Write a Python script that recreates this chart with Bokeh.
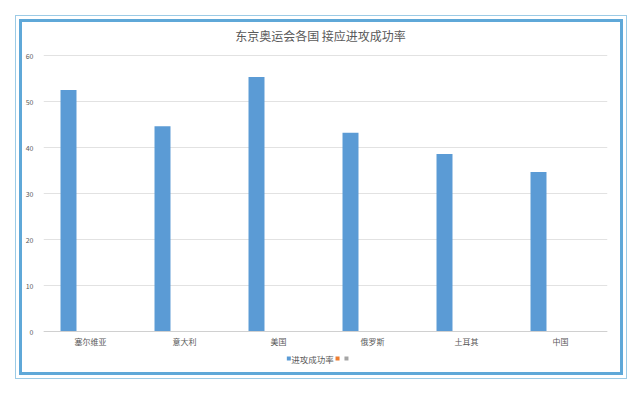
from bokeh.plotting import figure
from bokeh.models import (FactorRange, Range1d, ColumnDataSource, Span, SingleIntervalTicker)
from bokeh.transform import dodge
from bokeh.core.properties import value
from bokeh.embed import file_html
from bokeh.resources import INLINE

categories = ["塞尔维亚", "意大利", "美国", "俄罗斯", "土耳其", "中国"]
success_rate = [52.5, 44.6, 55.3, 43.2, 38.6, 34.7]
series_names = ["进攻成功率", "", ""]
series_colors = ["#5B9BD5", "#ED7D31", "#A5A5A5"]
title_text = "东京奥运会各国 接应进攻成功率"

FONT = "Noto Sans CJK SC"
THICK = "#5FA8D8"
THIN = "#9CCBE6"
GREY_TXT = "#595959"

p = figure(width=598, height=350, output_backend="svg", toolbar_location=None,
           x_range=FactorRange(factors=categories, range_padding=0),
           y_range=Range1d(-7.391, 66.087), x_axis_location=None,
           min_border_left=21, min_border_right=13, min_border_top=5, min_border_bottom=7,
           styles={"margin-left": "22px", "margin-top": "22px", "background-color": "#FFFFFF",
                   "box-shadow": f"0 0 0 3px {THICK}, 0 0 0 6px #FFFFFF, 0 0 0 7px {THIN}"})
p.outline_line_color = None
p.background_fill_color = "white"
p.border_fill_color = "white"

src = ColumnDataSource(dict(cat=categories, val=success_rate))

# bars (first series of a three-series cluster; the other two series are empty)
p.vbar(x=dodge("cat", -0.234, range=p.x_range), top="val", width=0.17, source=src,
       fill_color=series_colors[0], line_color=None)

# y axis
p.yaxis.ticker = SingleIntervalTicker(interval=10)
p.yaxis.axis_line_color = None
p.yaxis.major_tick_line_color = None
p.yaxis.minor_tick_line_color = None
p.yaxis.major_tick_out = 0
p.yaxis.major_tick_in = 0
p.yaxis.minor_tick_out = 0
p.yaxis.minor_tick_in = 0
p.yaxis.major_label_text_font = FONT
p.yaxis.major_label_text_font_size = "7px"
p.yaxis.major_label_text_color = GREY_TXT
p.yaxis.major_label_standoff = 10

p.xgrid.grid_line_color = None
p.ygrid.grid_line_color = "#E2E2E2"
p.add_layout(Span(location=0, dimension="width", line_color="#D0D0D0", line_width=1))

# category labels under the axis line
p.text(x="cat", y=-2.2, text="cat", source=src, text_font=value(FONT),
       text_font_size="8px", text_color=GREY_TXT, text_align="center",
       text_baseline="middle")

# title
p.text(x=[2.947], y=[64.3], text=[title_text], text_font=value(FONT),
       text_font_size="12px", text_color=GREY_TXT, text_align="center",
       text_baseline="middle")

# legend
leg_y = -5.87
p.scatter(x=[2.610], y=[leg_y], marker="square", size=4, fill_color=series_colors[0],
          line_color=None)
p.text(x=[2.635], y=[leg_y], text=[series_names[0]], text_font=value(FONT),
       text_font_size="8.5px", text_color=GREY_TXT, text_align="left",
       text_baseline="middle")
p.scatter(x=[3.128], y=[leg_y], marker="square", size=4, fill_color=series_colors[1],
          line_color=None)
p.scatter(x=[3.223], y=[leg_y], marker="square", size=4, fill_color=series_colors[2],
          line_color=None)

open("out.html", "w").write(file_html(p, INLINE))
